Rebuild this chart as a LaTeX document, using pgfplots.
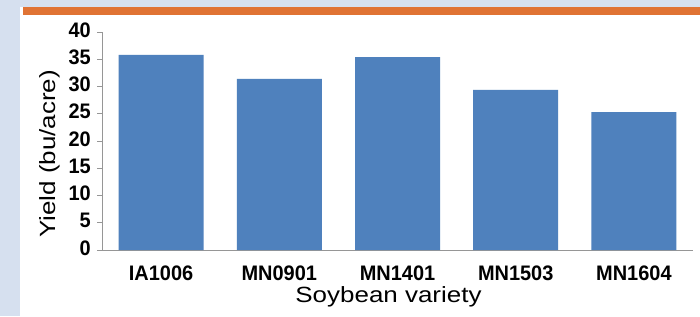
\documentclass[border=0pt]{standalone}
\usepackage{fontspec}
\setmainfont{Liberation Sans}
\newfontfamily\labelfont[FakeStretch=1.18]{Liberation Sans}
\newfontfamily\tickfont[FakeStretch=0.95]{Liberation Sans}
\usepackage{pgfplots}
\pgfplotsset{compat=1.18}
\definecolor{bgblue}{RGB}{214,224,239}
\definecolor{barorange}{RGB}{224,115,52}
\definecolor{barblue}{RGB}{79,129,189}
\definecolor{axgray}{RGB}{150,150,150}
\begin{document}
\begin{tikzpicture}[x=1bp,y=1bp]
\useasboundingbox (0,0) rectangle (700,316);
\fill[bgblue] (0,0) rectangle (700,316);
\fill[white] (20,0) rectangle (700,309);
\fill[barorange] (22.5,301) rectangle (700,309);
\begin{axis}[
  at={(102bp,66bp)}, anchor=origin,
  scale only axis,
  width=591bp, height=218bp,
  xmin=0, xmax=5, ymin=0, ymax=40,
  ybar, bar width=85bp,
  axis x line*=bottom, axis y line*=left,
  axis line style={draw=axgray, line width=0.8pt, -},
  xtick={0.5,1.5,2.5,3.5,4.5},
  xticklabels={IA1006,MN0901,MN1401,MN1503,MN1604},
  x tick style={draw=none},
  ytick={0,5,...,40},
  y tick style={draw=axgray, line width=0.8pt},
  ytick align=outside, major tick length=5bp,
  /pgf/number format/assume math mode=true,
  tick label style={font=\tickfont\fontsize{21bp}{25bp}\selectfont\bfseries},
  xticklabel style={anchor=base, inner sep=0pt, yshift=-25bp},
  yticklabel style={anchor=east, inner sep=0pt, xshift=-6bp, yshift=2bp},
  clip=false,
]
\addplot[draw=none, fill=barblue, bar shift=0pt] coordinates {
  (0.5,35.8) (1.5,31.4) (2.5,35.4) (3.5,29.4) (4.5,25.3)
};
\end{axis}
\node[rotate=90, anchor=base, inner sep=0pt, font=\labelfont\fontsize{22bp}{26bp}\selectfont] at (55,162) {Yield (bu/acre)};
\node[anchor=base, inner sep=0pt, font=\labelfont\fontsize{22bp}{26bp}\selectfont] at (388.5,14) {Soybean variety};
\end{tikzpicture}
\end{document}
